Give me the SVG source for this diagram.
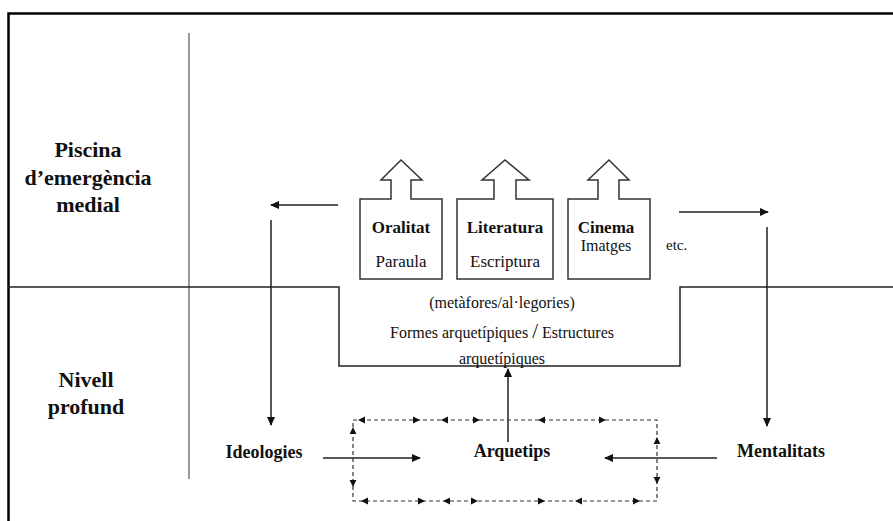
<svg xmlns="http://www.w3.org/2000/svg" xmlns:xlink="http://www.w3.org/1999/xlink" width="893" height="521" viewBox="0 0 893 521">
<style>
text{font-family:"Liberation Serif","Times New Roman",serif;fill:#111}
.b{font-weight:bold}
.ln{fill:none;stroke:#222;stroke-width:1.5}
.dash{fill:none;stroke:#333;stroke-width:1.2;stroke-dasharray:4 3}
.box{fill:#fff;stroke:#333;stroke-width:1.5}
.ah{fill:#111}
</style>
<defs>
<marker id="arr" markerWidth="9" markerHeight="8" refX="8" refY="4" orient="auto" markerUnits="userSpaceOnUse">
<path d="M0,0 L9,4 L0,8 Z" fill="#111"/>
</marker>
<path id="ah" d="M0,0 L-7,-3.4 L-7,3.4 Z"/>
</defs>
<rect width="893" height="521" fill="#fff"/>
<g id="frame">
<path d="M8.5,521 L8.5,13.5 L893,13.5" fill="none" stroke="#000" stroke-width="2.5"/>
<line x1="189" y1="33" x2="189" y2="479" stroke="#777" stroke-width="1.5"/>
<path class="ln" d="M8,287 L339,287 L339,366 L680,366 L680,287 L893,287"/>
</g>
<g id="label-piscina">
<text class="b" x="88" y="157" font-size="22" text-anchor="middle">Piscina</text>
<text class="b" x="88" y="185" font-size="22" text-anchor="middle">d’emergència</text>
<text class="b" x="88" y="212" font-size="22" text-anchor="middle">medial</text>
</g>
<g id="label-nivell">
<text class="b" x="86" y="387" font-size="22" text-anchor="middle">Nivell</text>
<text class="b" x="86" y="414" font-size="22" text-anchor="middle">profund</text>
</g>
<g id="node-oralitat">
<path class="box" d="M360,199 L391,199 L391,180 L381,180 L401,160 L422,180 L411,180 L411,199 L442,199 L442,279 L360,279 Z"/>
<text class="b" x="401" y="233" font-size="17" text-anchor="middle">Oralitat</text>
<text x="401" y="267" font-size="17" text-anchor="middle">Paraula</text>
</g>
<g id="node-literatura">
<path class="box" d="M457,199 L494,199 L494,180 L482,180 L505,160 L529,180 L516,180 L516,199 L553,199 L553,279 L457,279 Z"/>
<text class="b" x="505" y="233" font-size="17" text-anchor="middle">Literatura</text>
<text x="505" y="267" font-size="17" text-anchor="middle">Escriptura</text>
</g>
<g id="node-cinema">
<path class="box" d="M568,199 L598,199 L598,180 L588,180 L609,160 L629,180 L619,180 L619,199 L650,199 L650,279 L568,279 Z"/>
<text class="b" x="606" y="233" font-size="17" text-anchor="middle">Cinema</text>
<text x="606" y="251" font-size="16" text-anchor="middle">Imatges</text>
</g>
<g id="label-etc">
<text x="666" y="250" font-size="15">etc.</text>
</g>
<g id="node-formes">
<text x="502" y="308" font-size="16" text-anchor="middle">(metàfores/al·legories)</text>
<text x="502" y="338" font-size="16" text-anchor="middle">Formes arquetípiques <tspan font-size="21">/</tspan> Estructures</text>
<text x="502" y="364" font-size="16" text-anchor="middle">arquetípiques</text>
</g>
<g id="node-ideologies">
<text class="b" x="264" y="458" font-size="18" text-anchor="middle">Ideologies</text>
</g>
<g id="node-arquetips">
<text class="b" x="512" y="457" font-size="18" text-anchor="middle">Arquetips</text>
</g>
<g id="node-mentalitats">
<text class="b" x="781" y="457" font-size="18" text-anchor="middle">Mentalitats</text>
</g>
<g id="connectors">
<line class="ln" x1="338" y1="205" x2="271" y2="205" marker-end="url(#arr)"/>
<line class="ln" x1="271" y1="220" x2="271" y2="425" marker-end="url(#arr)"/>
<line class="ln" x1="679" y1="212" x2="768" y2="212" marker-end="url(#arr)"/>
<line class="ln" x1="767" y1="227" x2="767" y2="426" marker-end="url(#arr)"/>
<line class="ln" x1="508" y1="442" x2="508" y2="369" marker-end="url(#arr)"/>
<line class="ln" x1="323" y1="458" x2="420" y2="458" marker-end="url(#arr)"/>
<line class="ln" x1="717" y1="458" x2="605" y2="458" marker-end="url(#arr)"/>
<rect class="dash" x="353" y="420" width="304" height="81"/>
<g class="ah">
<use xlink:href="#ah" href="#ah" transform="translate(358,420) rotate(180)"/>
<use xlink:href="#ah" href="#ah" transform="translate(420,420)"/>
<use xlink:href="#ah" href="#ah" transform="translate(441,420) rotate(180)"/>
<use xlink:href="#ah" href="#ah" transform="translate(480,420)"/>
<use xlink:href="#ah" href="#ah" transform="translate(538,420) rotate(180)"/>
<use xlink:href="#ah" href="#ah" transform="translate(606,420)"/>
<use xlink:href="#ah" href="#ah" transform="translate(361,501) rotate(180)"/>
<use xlink:href="#ah" href="#ah" transform="translate(425,501)"/>
<use xlink:href="#ah" href="#ah" transform="translate(443,501) rotate(180)"/>
<use xlink:href="#ah" href="#ah" transform="translate(478,501)"/>
<use xlink:href="#ah" href="#ah" transform="translate(545,501)"/>
<use xlink:href="#ah" href="#ah" transform="translate(575,501) rotate(180)"/>
<use xlink:href="#ah" href="#ah" transform="translate(640,501)"/>
<use xlink:href="#ah" href="#ah" transform="translate(353,427) rotate(-90)"/>
<use xlink:href="#ah" href="#ah" transform="translate(353,487) rotate(90)"/>
<use xlink:href="#ah" href="#ah" transform="translate(657,437) rotate(-90)"/>
<use xlink:href="#ah" href="#ah" transform="translate(657,484) rotate(90)"/>
</g>
</g>
</svg>
